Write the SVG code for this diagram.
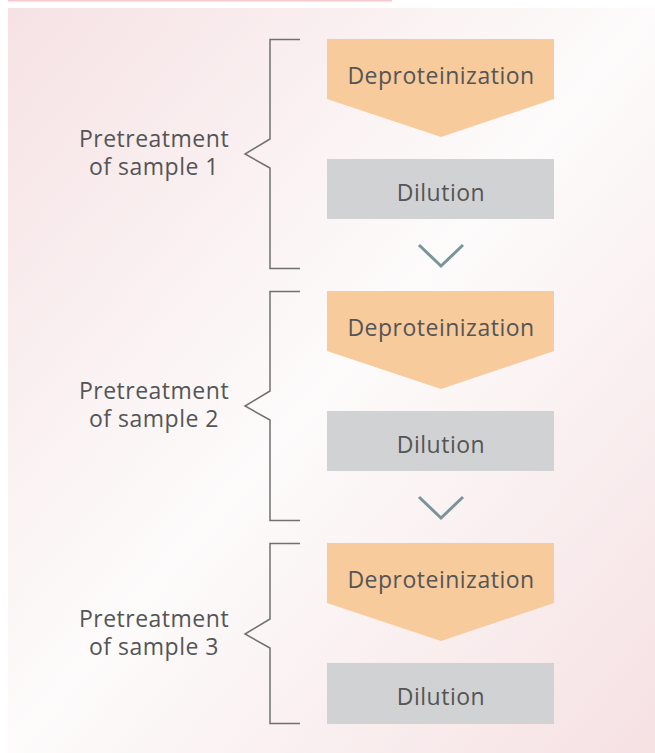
<svg xmlns="http://www.w3.org/2000/svg" width="655" height="753" viewBox="0 0 655 753">
<defs>
<linearGradient id="bg" x1="0" y1="0" x2="1" y2="1">
<stop offset="0" stop-color="#f6e2e4"/>
<stop offset="0.5" stop-color="#fdfbfb"/>
<stop offset="1" stop-color="#f6e1e3"/>
</linearGradient>
</defs>
<style>
.brace{fill:none;stroke:#707070;stroke-width:1.5}
.dep{fill:#f7cb9c}
.dil{fill:#d1d2d4}
.chev{fill:none;stroke:#7a949c;stroke-width:3}
text{font-family:"Open Sans","Noto Sans","Liberation Sans",sans-serif;fill:#555555;font-size:23px;letter-spacing:0.5px;text-anchor:middle}
</style>
<rect x="8" y="0" width="384" height="1.5" fill="#f4c8cd"/>
<rect x="8" y="8" width="647" height="745" fill="url(#bg)"/>

<g id="group1">
<path class="brace" d="M300,39.5 H270 V139 L245,154 L270,168 V268.5 H300"/>
<text x="154" y="147">Pretreatment</text>
<text x="154" y="175">of sample 1</text>
</g>
<g id="dep1">
<polygon class="dep" points="327,39 554,39 554,99 441,137 327,99"/>
<text x="441" y="84">Deproteinization</text>
</g>
<g id="dil1">
<rect class="dil" x="327" y="159" width="227" height="60"/>
<text x="441" y="201">Dilution</text>
</g>

<g id="group2">
<path class="brace" d="M300,291.5 H270 V391 L245,406 L270,420 V520.5 H300"/>
<text x="154" y="399">Pretreatment</text>
<text x="154" y="427">of sample 2</text>
</g>
<g id="dep2">
<polygon class="dep" points="327,291 554,291 554,351 441,389 327,351"/>
<text x="441" y="336">Deproteinization</text>
</g>
<g id="dil2">
<rect class="dil" x="327" y="411" width="227" height="60"/>
<text x="441" y="453">Dilution</text>
</g>

<g id="group3">
<path class="brace" d="M300,543.5 H270 V619 L245,634 L270,648 V723.5 H300"/>
<text x="154" y="627">Pretreatment</text>
<text x="154" y="655">of sample 3</text>
</g>
<g id="dep3">
<polygon class="dep" points="327,543 554,543 554,603 441,641 327,603"/>
<text x="441" y="588">Deproteinization</text>
</g>
<g id="dil3">
<rect class="dil" x="327" y="663" width="227" height="61"/>
<text x="441" y="705">Dilution</text>
</g>

<g id="connectors">
<polyline class="chev" points="419,245 441,266 463,245"/>
<polyline class="chev" points="419,497 441,518 463,497"/>
</g>
</svg>
